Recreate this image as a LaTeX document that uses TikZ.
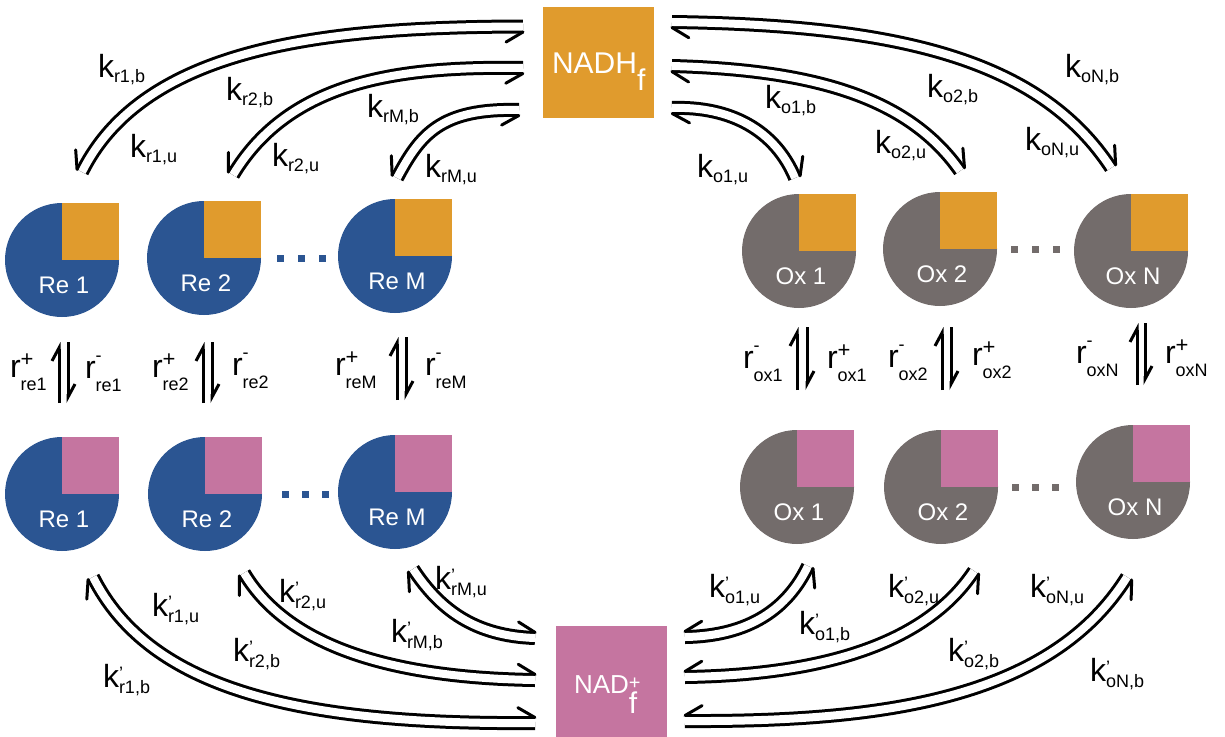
\documentclass[tikz,border=0pt]{standalone}
\usepackage{fontspec}
\setmainfont{Liberation Sans}
\usetikzlibrary{decorations.markings,arrows.meta}
\definecolor{reblue}{RGB}{43,85,146}
\definecolor{nadhor}{RGB}{224,155,45}
\definecolor{oxgray}{RGB}{115,108,107}
\definecolor{nadpink}{RGB}{197,117,160}
\newcommand\subf{\fontsize{18}{20}\selectfont}
\newcommand\kk[1]{k\raisebox{-5pt}{\subf #1}}
\newcommand\kq[1]{k\rlap{\raisebox{8pt}{\subf ’}}\raisebox{-6pt}{\subf #1}}
\newcommand\rplus[1]{r\rlap{\raisebox{11pt}{\fontsize{22}{22}\selectfont +}}\raisebox{-13pt}{\subf #1}}
\newcommand\rminus[1]{r\rlap{\raisebox{17pt}{\subf -}}\raisebox{-13pt}{\subf #1}}
\tikzset{
  pairline/.style={line width=3pt, double=white, double distance=8pt},
  barb/.style={line width=3pt, line cap=round},
  eqline/.style={line width=3pt},
  uphead/.style={-{Straight Barb[left,length=13pt,width=14pt]}},
  lab/.style={anchor=base west, inner sep=0pt, outer sep=0pt, font=\fontsize{32}{38}\selectfont},
  pie/.style={circle, minimum size=114pt, inner sep=0pt, outer sep=0pt},
  pielab/.style={anchor=base, inner sep=0pt, text=white, font=\fontsize{24}{28}\selectfont},
  bigbox/.style={rectangle, minimum size=111pt, inner sep=0pt, outer sep=0pt},
  barbL/.style={decorate,decoration={markings,
    mark=at position 0 with {\draw[barb] (0pt,5.5pt) -- (17pt,15.5pt);}}},
  barbR/.style={decorate,decoration={markings,
    mark=at position 0 with {\draw[barb] (0pt,-5.5pt) -- (17pt,-15.5pt);}}},
}
% pair of opposite harpoons along one curve; barbs put at the start of the path and of its reverse
\newcommand\pairA[4]{%
  \draw[pairline] (#1) .. controls (#2) and (#3) .. (#4);
  \path[barbL] (#1) .. controls (#2) and (#3) .. (#4);
  \path[barbL] (#4) .. controls (#3) and (#2) .. (#1);}
\newcommand\pairB[4]{%
  \draw[pairline] (#1) .. controls (#2) and (#3) .. (#4);
  \path[barbR] (#1) .. controls (#2) and (#3) .. (#4);
  \path[barbR] (#4) .. controls (#3) and (#2) .. (#1);}
\begin{document}
\begin{tikzpicture}[x=1pt,y=-1pt]
\fill[white] (0,0) rectangle (1225,736);
\useasboundingbox (0,0) rectangle (1225,736);

% ---- boxes
\node[bigbox, fill=nadhor] (nadh) at (598.5,62.5) {};
\node[lab, text=white, font=\fontsize{30}{34}\selectfont] (nadhlab) at (552,73) {NADH\raisebox{-17pt}{f}};
\node[bigbox, fill=nadpink] (nad) at (611,681.5) {};
\node[lab, text=white, font=\fontsize{26}{30}\selectfont] (nadlab) at (574,693)
  {NAD\rlap{\raisebox{4pt}{\fontsize{20}{20}\selectfont +}}\raisebox{-20pt}{\fontsize{30}{30}\selectfont f}};

% ---- pies
\foreach \n/\x/\y/\t in {re1t/62/260/Re 1, re2t/204/258/Re 2, reMt/395/256/Re M}{
  \node[pie, fill=reblue] (\n) at (\x,\y) {};
  \fill[nadhor] (\n.center) rectangle ++(57,-57);
  \node[pielab] (\n lab) at (\x+2,\y+33) {\t};
}
\foreach \n/\x/\y/\t in {re1b/62/494/Re 1, re2b/205/494/Re 2, reMb/395/492/Re M}{
  \node[pie, fill=reblue] (\n) at (\x,\y) {};
  \fill[nadpink] (\n.center) rectangle ++(57,-57);
  \node[pielab] (\n lab) at (\x+2,\y+33) {\t};
}
\foreach \n/\x/\y/\t in {ox1t/799/251/Ox 1, ox2t/940/249/Ox 2, oxNt/1131/251/Ox N}{
  \node[pie, fill=oxgray] (\n) at (\x,\y) {};
  \fill[nadhor] (\n.center) rectangle ++(57,-57);
  \node[pielab] (\n lab) at (\x+2,\y+33) {\t};
}
\foreach \n/\x/\y/\t in {ox1b/797/487/Ox 1, ox2b/941/487/Ox 2, oxNb/1133/482/Ox N}{
  \node[pie, fill=oxgray] (\n) at (\x,\y) {};
  \fill[nadpink] (\n.center) rectangle ++(57,-57);
  \node[pielab] (\n lab) at (\x+2,\y+33) {\t};
}
% dots
\foreach \x in {280,301,322}{\fill[reblue] (\x-3.5,254.5) rectangle ++(7,7);}
\foreach \x in {285,305,325}{\fill[reblue] (\x-3.5,490.5) rectangle ++(7,7);}
\foreach \x in {1014,1035,1056}{\fill[oxgray] (\x-3.5,245.5) rectangle ++(7,7);}
\foreach \x in {1015,1035,1055}{\fill[oxgray] (\x-3.5,483.5) rectangle ++(7,7);}

% ---- vertical equilibria
\foreach \n/\l/\r/\t/\b in {re1/59/68/342/403, re2/203/212/342/403, reM/397/406/337/400,
                            ox1/797/807/327/390, ox2/942/951/327/390, oxN/1137/1145/323/385}{
  \coordinate (\n eqlb) at (\l,\b); \coordinate (\n eqlt) at (\l,\t);
  \coordinate (\n eqrt) at (\r,\t); \coordinate (\n eqrb) at (\r,\b);
  \draw[eqline, uphead] (\n eqlb) -- (\n eqlt);
  \draw[eqline, uphead] (\n eqrt) -- (\n eqrb);
}

% ---- curved exchanges: NADH <-> Re (top left)
\coordinate (kr1s) at (523,26.5); \coordinate (kr1e) at (82,172);
\coordinate (kr2s) at (523,68);   \coordinate (kr2e) at (233,175);
\coordinate (krMs) at (519,110);  \coordinate (krMe) at (397,178);
\pairA{kr1s}{330,27}{145,45}{kr1e}
\pairA{kr2s}{400,66}{290,80}{kr2e}
\pairA{krMs}{440,108}{420,135}{krMe}
% NADH <-> Ox (top right)
\coordinate (ko1s) at (672,108); \coordinate (ko1e) at (795,178);
\coordinate (ko2s) at (672,66);  \coordinate (ko2e) at (960,171);
\coordinate (koNs) at (672,22);  \coordinate (koNe) at (1111,168);
\pairB{ko1s}{730,106}{775,130}{ko1e}
\pairB{ko2s}{820,70}{910,100}{ko2e}
\pairB{koNs}{900,25}{1040,60}{koNe}
% NAD+ <-> Re (bottom left)
\coordinate (qr1s) at (535,723); \coordinate (qr1e) at (93,577);
\coordinate (qr2s) at (535,680); \coordinate (qr2e) at (244,573);
\coordinate (qrMs) at (535,638); \coordinate (qrMe) at (413,569);
\pairB{qr1s}{300,725}{150,690}{qr1e}
\pairB{qr2s}{400,678}{290,650}{qr2e}
\pairB{qrMs}{475,636}{440,610}{qrMe}
% NAD+ <-> Ox (bottom right)
\coordinate (qo1s) at (685,637); \coordinate (qo1e) at (808,566);
\coordinate (qo2s) at (685,677); \coordinate (qo2e) at (974,571);
\coordinate (qoNs) at (685,721); \coordinate (qoNe) at (1127,577);
\pairA{qo1s}{750,636}{788,608}{qo1e}
\pairA{qo2s}{820,675}{925,645}{qo2e}
\pairA{qoNs}{880,722}{1050,700}{qoNe}

% ---- rate labels
\node[lab] (l1) at (98,77) {\kk{r1,b}};
\node[lab] (l2) at (130,157) {\kk{r1,u}};
\node[lab] (l3) at (226,100) {\kk{r2,b}};
\node[lab] (l4) at (272,166) {\kk{r2,u}};
\node[lab] (l5) at (367,117) {\kk{rM,b}};
\node[lab] (l6) at (425,177) {\kk{rM,u}};
\node[lab] (l7) at (765,108) {\kk{o1,b}};
\node[lab] (l8) at (697,177) {\kk{o1,u}};
\node[lab] (l9) at (927,97) {\kk{o2,b}};
\node[lab] (l10) at (875,153) {\kk{o2,u}};
\node[lab] (l11) at (1065,77) {\kk{oN,b}};
\node[lab] (l12) at (1025,150) {\kk{oN,u}};
\node[lab] (m1) at (152,616) {\kq{r1,u}};
\node[lab] (m2) at (103,687) {\kq{r1,b}};
\node[lab] (m3) at (233,661) {\kq{r2,b}};
\node[lab] (m4) at (279,602) {\kq{r2,u}};
\node[lab] (m5) at (435,589) {\kq{rM,u}};
\node[lab] (m6) at (391,642) {\kq{rM,b}};
\node[lab] (m7) at (709,597) {\kq{o1,u}};
\node[lab] (m8) at (799,634) {\kq{o1,b}};
\node[lab] (m9) at (888,597) {\kq{o2,u}};
\node[lab] (m10) at (948,661) {\kq{o2,b}};
\node[lab] (m11) at (1030,597) {\kq{oN,u}};
\node[lab] (m12) at (1090,681) {\kq{oN,b}};
\node[lab] (r1) at (10,377) {\rplus{re1}};
\node[lab] (r2) at (85,378) {\rminus{re1}};
\node[lab] (r3) at (152,377) {\rplus{re2}};
\node[lab] (r4) at (232,375) {\rminus{re2}};
\node[lab] (r5) at (335,375) {\rplus{reM}};
\node[lab] (r6) at (425,375) {\rminus{reM}};
\node[lab] (r7) at (743,368) {\rminus{ox1}};
\node[lab] (r8) at (827,368) {\rplus{ox1}};
\node[lab] (r9) at (888,367) {\rminus{ox2}};
\node[lab] (r10) at (972,365) {\rplus{ox2}};
\node[lab] (r11) at (1076,363) {\rminus{oxN}};
\node[lab] (r12) at (1165,363) {\rplus{oxN}};
\end{tikzpicture}
\end{document}
